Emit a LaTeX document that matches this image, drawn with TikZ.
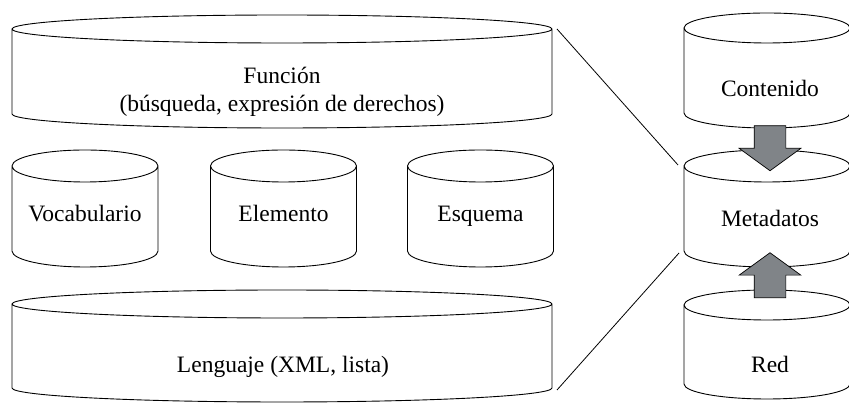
\documentclass[tikz,border=0pt]{standalone}
\usepackage{fontspec}
\setmainfont{Liberation Serif}
\usetikzlibrary{shapes.arrows,calc}
\definecolor{arrowgray}{RGB}{128,132,136}
% drum: name, centre x, centre y, width, height, ellipse radius
\newcommand{\drum}[6]{%
  \node[box,minimum width=#4pt,minimum height=#5pt] (#1) at (#2,#3) {};
  \draw ($(#1.north west)+(0,-#6)$) -- ($(#1.south west)+(0,#6)$)
    arc[start angle=180,end angle=360,x radius=#4/2,y radius=#6]
    -- ($(#1.north east)+(0,-#6)$)
    arc[start angle=0,end angle=360,x radius=#4/2,y radius=#6];
}

\begin{document}
\begin{tikzpicture}[x=1pt,y=1pt,line width=0.9pt,
  box/.style={inner sep=0pt,outer sep=0pt},
  lbl/.style={font=\fontsize{23.5}{28}\selectfont,align=center},
  word/.style={lbl,anchor=base},
  blockarrow/.style={single arrow,draw,line width=0.7pt,fill=arrowgray,inner sep=15.5pt,
    minimum height=45pt,minimum width=61pt,single arrow head extend=15pt,
    single arrow tip angle=108}]
  \useasboundingbox (0,0) rectangle (849,403);
  % left block
  \drum{fun}{282}{331.5}{540}{113}{14}
  \drum{voc}{85}{194.5}{146}{117}{16}
  \drum{ele}{283.5}{194.5}{146}{117}{16}
  \drum{esq}{480.5}{194.5}{146}{117}{16}
  \drum{lang}{282}{57}{540}{112}{14}
  \node[lbl] (funt) at (282,311) {Función\\(búsqueda, expresión de derechos)};
  \node[word] (voct) at (85,181) {Vocabulario};
  \node[word] (elet) at (283.5,181) {Elemento};
  \node[word] (esqt) at (480.5,181) {Esquema};
  \node[word] (langt) at (283,30) {Lenguaje (XML, lista)};
  % right column
  \drum{cont}{767}{332.5}{166}{115}{15}
  \drum{meta}{767}{194.5}{166}{117}{16}
  \drum{red}{767}{58.5}{166}{109}{15}
  \node[word] (contt) at (770,306) {Contenido};
  \node[word] (metat) at (770,176) {Metadatos};
  \node[word] (redt) at (770,30) {Red};
  \node[blockarrow,shape border rotate=270] (c2m) at (770,260.5) {};
  \node[blockarrow,shape border rotate=90] (r2m) at (770,122) {};
  \draw[line width=0.8pt] ($(fun.north east)+(5,-14)$) -- ($(meta.north west)+(-6,-15)$);
  \draw[line width=0.8pt] ($(lang.south east)+(5,12)$) -- ($(meta.south west)+(-5,14)$);
\end{tikzpicture}
\end{document}
